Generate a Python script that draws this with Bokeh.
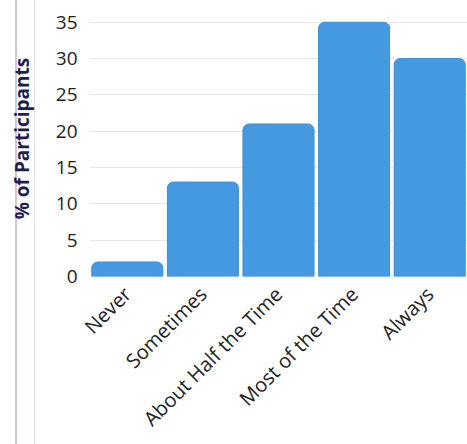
from math import pi
from bokeh.plotting import figure
from bokeh.models import Range1d, FactorRange
from bokeh.embed import file_html
from bokeh.resources import INLINE

categories = ["Never", "Sometimes", "About Half the Time", "Most of the Time", "Always"]
percent = [2, 13, 21, 35, 30]
y_ticks = [0, 5, 10, 15, 20, 25, 30, 35]

p = figure(
    x_range=FactorRange(*categories, range_padding=0.0),
    y_range=Range1d(0, 38.0),
    width=467, height=444,
    output_backend="svg", toolbar_location=None,
    min_border_left=89, min_border_right=0, min_border_top=0, min_border_bottom=168,
)

p.vbar(x=categories, top=percent, width=0.94, fill_color="#4499e0",
       line_color="#3d8fd6", line_width=1, border_radius=[6, 6, 0, 0])

p.border_fill_color = None
p.background_fill_color = "white"
p.outline_line_color = None
p.styles = {
    "background": "linear-gradient(to right, white 0px, white 15px, #c9c9dd 15px, #c9c9dd 17px, white 17px, white 34px, #e2e2e2 34px, #e2e2e2 35px, white 35px)"
}

p.xgrid.grid_line_color = None
p.ygrid.grid_line_color = "#e6e6e6"
p.ygrid.ticker = y_ticks

p.yaxis.ticker = y_ticks
p.yaxis.axis_line_color = None
p.yaxis.major_tick_line_color = None
p.yaxis.minor_tick_line_color = None
p.yaxis.major_label_text_font = "Open Sans"
p.yaxis.major_label_text_font_size = "19px"
p.yaxis.major_label_text_color = "#222222"
p.yaxis.major_label_standoff = 6
p.yaxis.axis_label = "% of Participants"
p.yaxis.axis_label_text_font = "Open Sans"
p.yaxis.axis_label_text_font_style = "bold"
p.yaxis.axis_label_text_font_size = "19px"
p.yaxis.axis_label_text_color = "#1f1d4d"
p.yaxis.axis_label_standoff = 18

p.xaxis.axis_line_color = None
p.xaxis.major_tick_line_color = None
p.xaxis.major_label_orientation = pi / 4
p.xaxis.major_label_text_font = "Open Sans"
p.xaxis.major_label_text_font_size = "20px"
p.xaxis.major_label_text_color = "#222222"
p.xaxis.major_label_standoff = 8

open("out.html", "w").write(file_html(p, INLINE))
